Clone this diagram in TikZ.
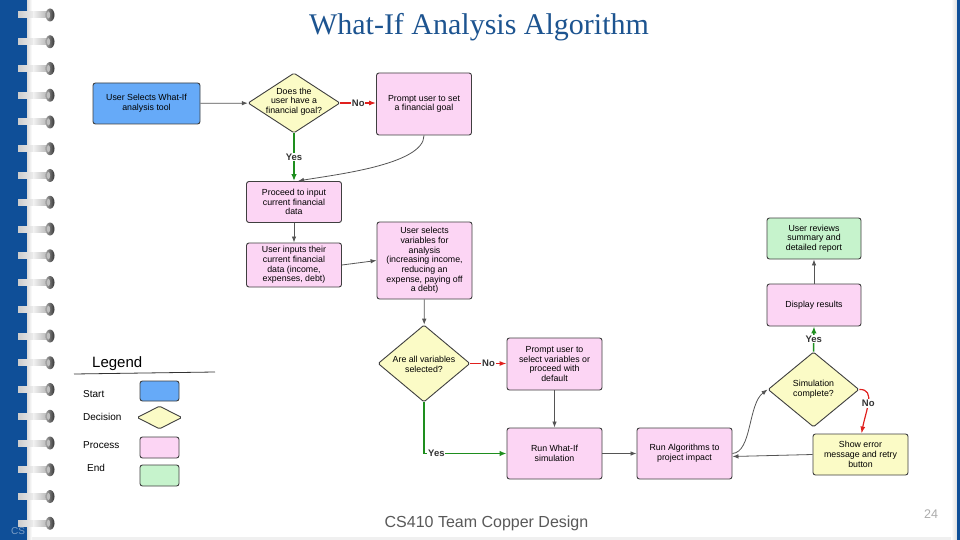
\documentclass[tikz,border=0pt]{standalone}
\usepackage{fontspec}
\setmainfont{Liberation Sans}
\newfontfamily\ttlfont{Liberation Serif}
\usetikzlibrary{shapes.geometric,arrows.meta}

\definecolor{startblue}{HTML}{66AAF8}
\definecolor{procpink}{HTML}{FCD5F4}
\definecolor{decyellow}{HTML}{FBFBC6}
\definecolor{endgreen}{HTML}{C6F3CC}
\definecolor{stripblue}{HTML}{0F4F98}
\definecolor{titleblue}{HTML}{1D5490}
\definecolor{yesgreen}{HTML}{1E8E1E}
\definecolor{nored}{HTML}{E0201E}
\definecolor{linegray}{HTML}{555555}
\definecolor{bordergray}{HTML}{3F3F3F}
\definecolor{labelgray}{HTML}{333333}
\definecolor{footgray}{HTML}{595959}

\newcommand{\ndfont}{\fontsize{8.8}{9.7}\selectfont}
\newcommand{\lbfont}{\fontsize{9.5}{10}\selectfont\bfseries}

\begin{document}
\begin{tikzpicture}[x=1pt,y=-1pt,
  box/.style={draw=bordergray,line width=0.9pt,rounded corners=2.5pt,align=center,inner sep=0pt,font=\ndfont},
  dec/.style={shape=diamond,draw=bordergray,line width=0.9pt,fill=decyellow,inner sep=0pt,rounded corners=1.5pt},
  conn/.style={draw=linegray,line width=0.8pt,-{Latex[length=6pt,width=4.5pt]}},
  yesline/.style={draw=yesgreen,line width=1.5pt,-{Latex[length=7pt,width=5.5pt]}},
  noline/.style={draw=nored,line width=1.2pt,-{Latex[length=7pt,width=5pt]}},
  lbl/.style={fill=white,inner sep=0.8pt,font=\lbfont,text=labelgray},
  legtxt/.style={font=\fontsize{10}{10}\selectfont,text=black,anchor=base west,inner sep=0pt},
]
% page
\useasboundingbox (0,0) rectangle (960,540);
\fill[white] (0,0) rectangle (960,540);
\fill[gray!12] (26,537) rectangle (957,540);
\shade[left color=gray!35,right color=white] (26,0) rectangle (32,540);
\shade[left color=white,right color=gray!25] (951,0) rectangle (957,540);
\fill[stripblue] (957,0) rectangle (960,540);
\fill[stripblue] (0,0) rectangle (26.5,540);
\node[font=\fontsize{10}{10}\selectfont,text=stripblue!55!white] (cs) at (18,531) {CS};
% rings
\foreach \i in {0,...,19}{
  \pgfmathsetmacro{\ry}{15+26.75*\i}
  \shade[left color=gray!40,right color=gray!15] (18,\ry-3) rectangle (33,\ry+3);
  \shade[left color=gray!10,right color=gray!55] (33,\ry-3) rectangle (47,\ry+3);
  \shade[left color=black!35,right color=black!80] (50,\ry) ellipse [x radius=4.5pt,y radius=6.5pt];
  \fill[black!25] (48.5,\ry) ellipse [x radius=1.6pt,y radius=3.5pt];
}

% title and footer
\node[font=\ttlfont\fontsize{30}{30}\selectfont,text=titleblue,anchor=base,inner sep=0pt] (title) at (479,35) {What-If Analysis Algorithm};
\node[font=\fontsize{16}{16}\selectfont,text=footgray,anchor=base,inner sep=0pt] (foot) at (486.5,527) {CS410 Team Copper Design};
\node[font=\fontsize{12.5}{12.5}\selectfont,text=gray!65,anchor=base,inner sep=0pt] (pg) at (931,518) {24};

% nodes
\node[box,fill=startblue,minimum width=107pt,minimum height=41pt] (s) at (146.5,103.5) {User Selects What-If\\analysis tool};
\node[dec,minimum width=92pt,minimum height=60pt,label={[font=\ndfont,align=center,yshift=1.5pt]center:Does the\\user have a\\financial goal?}] (d1) at (294,103) {};
\node[box,fill=procpink,minimum width=95pt,minimum height=62pt] (p1) at (424,104) {Prompt user to set\\a financial goal};
\node[box,fill=procpink,minimum width=95pt,minimum height=41pt] (proc) at (294,202) {Proceed to input\\current financial\\data};
\node[box,fill=procpink,minimum width=95pt,minimum height=44pt] (inp) at (294,265) {User inputs their\\current financial\\data (income,\\expenses, debt)};
\node[box,fill=procpink,minimum width=95pt,minimum height=77pt] (vars) at (424.5,260.5) {User selects\\variables for\\analysis\\(increasing income,\\reducing an\\expense, paying off\\a debt)};
\node[dec,minimum width=92pt,minimum height=77pt,label={[font=\ndfont,align=center,yshift=-1pt]center:Are all variables\\selected?}] (d2) at (424,363.5) {};
\node[box,fill=procpink,minimum width=95pt,minimum height=52pt] (p2) at (554.5,364) {Prompt user to\\select variables or\\proceed with\\default};
\node[box,fill=procpink,minimum width=95pt,minimum height=51pt] (run) at (554.5,453.5) {Run What-If\\simulation};
\node[box,fill=procpink,minimum width=95pt,minimum height=51pt] (alg) at (684.5,453.5) {Run Algorithms to\\project impact};
\node[dec,minimum width=91pt,minimum height=75pt,label={[font=\ndfont,align=center]center:Simulation\\complete?}] (d3) at (813.5,389.5) {};
\node[box,fill=procpink,minimum width=94pt,minimum height=42pt] (disp) at (814,305) {Display results};
\node[box,fill=endgreen,minimum width=94pt,minimum height=41pt] (endn) at (814,238.5) {User reviews\\summary and\\detailed report};
\node[box,fill=decyellow,minimum width=95pt,minimum height=41pt] (err) at (860.5,454.5) {Show error\\message and retry\\button};

% connectors
\draw[conn] (s) -- (d1);
\draw[noline] (d1.east) -- node[lbl]{No} (p1.west |- d1.east);
\draw[yesline] (d1.south) -- node[lbl]{Yes} (proc.north);
\coordinate (pin) at ([xshift=4pt]proc.north);
\draw[conn] (p1.south) .. controls (424,165) and (332,175) .. (pin);
\draw[conn] (proc) -- (inp);
\draw[conn] (inp.east) -- (vars.west);
\draw[conn] (vars) -- (d2);
\draw[noline] (d2.east) -- node[lbl]{No} (p2.west |- d2.east);
\draw[conn] (p2) -- (run);
\draw[yesline] (d2.south) |- node[lbl,pos=0.575]{Yes} (run.west);
\draw[conn] (run) -- (alg);
\draw[conn] (alg.east) .. controls (752,452) and (748,404) .. (d3.west);
\draw[yesline] (d3.north) -- node[lbl]{Yes} (disp.south);
\draw[conn] (disp) -- (endn);
\draw[noline] (d3.east) .. controls (876,389) and (866,410) .. node[lbl,pos=0.52]{No} ([xshift=1pt]err.north);
\coordinate (ain) at ([yshift=-3pt]alg.east);
\draw[conn] (err.west) -- (ain);

% legend
\node[font=\fontsize{15}{15}\selectfont,anchor=base west,inner sep=0pt] (legt) at (92,367) {Legend};
\coordinate (lgl) at (74,374);
\coordinate (lgr) at (215,372);
\draw[black!80,line width=0.8pt] (lgl) -- (lgr);
\node[legtxt] (lst) at (83,397) {Start};
\node[legtxt] (ldc) at (83,420) {Decision};
\node[legtxt] (lpr) at (83,448) {Process};
\node[legtxt] (len) at (87,471) {End};
\node[box,fill=startblue,minimum width=39pt,minimum height=20pt] (lb1) at (159.5,391) {};
\node[dec,minimum width=45pt,minimum height=23pt] (lb2) at (159.5,417.5) {};
\node[box,fill=procpink,minimum width=39pt,minimum height=21pt] (lb3) at (159.5,447.5) {};
\node[box,fill=endgreen,minimum width=39pt,minimum height=21pt] (lb4) at (159.5,475.5) {};
\end{tikzpicture}
\end{document}
